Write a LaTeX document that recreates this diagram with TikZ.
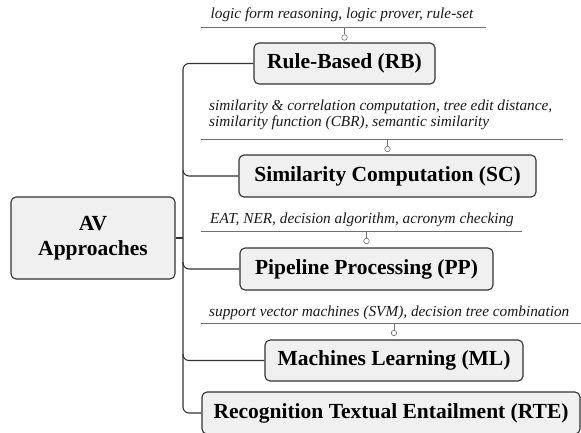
\documentclass[tikz,border=0pt]{standalone}
\usepackage{fontspec}
\setmainfont{Liberation Serif}
\usetikzlibrary{positioning}
\definecolor{boxfill}{HTML}{F0F0F0}
\definecolor{boxdraw}{HTML}{333333}
\definecolor{annline}{HTML}{707070}
\tikzset{
  x=1pt, y=-1pt,
  titlebox/.style={draw=boxdraw, fill=boxfill, line width=1.1pt, rounded corners=5pt,
    font=\fontsize{21.5}{24}\selectfont\bfseries, inner sep=0pt, anchor=center},
  anntext/.style={font=\fontsize{15.3}{16.5}\selectfont\itshape, inner sep=0pt, text=black!90},
  annline/.style={draw=annline, line width=0.6pt},
  knob/.style={circle, draw=annline, fill=white, line width=0.6pt, minimum size=5.5pt, inner sep=0pt},
  trunk/.style={draw=boxdraw, line width=1.1pt, rounded corners=6pt},
}
\begin{document}
\begin{tikzpicture}
\useasboundingbox (0,0) rectangle (581,432);
\begin{scope}
\clip (0,0) rectangle (581,432);
% main box
\node[titlebox, minimum width=164pt, minimum height=82pt, align=center, font=\fontsize{21.5}{25}\selectfont\bfseries] (av) at (93,238) {AV\\Approaches};
% category boxes
\node[titlebox, minimum width=181pt, minimum height=41pt] (rb) at (344.5,63.5) {Rule-Based (RB)};
\node[titlebox, minimum width=297pt, minimum height=42pt] (sc) at (387.5,176) {Similarity Computation (SC)};
\node[titlebox, minimum width=253pt, minimum height=42pt] (pp) at (366.5,269) {Pipeline Processing (PP)};
\node[titlebox, minimum width=258pt, minimum height=41pt] (ml) at (394,360.5) {Machines Learning (ML)};
\node[titlebox, minimum width=378pt, minimum height=42pt] (rte) at (391,413) {Recognition Textual Entailment (RTE)};
% trunk
\coordinate (tj) at (183,238);
\draw[trunk] (av.east) -- (tj);
\draw[trunk] (tj) |- (rb.west);
\draw[trunk] (tj) |- (rte.west);
\draw[trunk] (183,170) |- (sc.west);
\draw[trunk] (183,262) |- (pp.west);
\draw[trunk] (183,354) |- (ml.west);
% annotations
\node[anntext] (rbt) at (342,15) {logic form reasoning, logic prover, rule-set};
\coordinate (rbl1) at (201,27); \coordinate (rbl2) at (486,27);
\draw[annline] (rbl1) -- (rbl2);
\node[knob] (rbk) at (344.5,37.5) {};
\draw[annline] (rbk) -- (rbk |- rbl1);

\node[anntext, anchor=west, align=left] (sct) at (209,115) {similarity \& correlation computation, tree edit distance,\\similarity function (CBR), semantic similarity};
\coordinate (scl1) at (201,139); \coordinate (scl2) at (563,139);
\draw[annline] (scl1) -- (scl2);
\node[knob] (sck) at (387.5,149) {};
\draw[annline] (sck) -- (sck |- scl1);

\node[anntext, anchor=west] (ppt) at (210,220) {EAT, NER, decision algorithm, acronym checking};
\coordinate (ppl1) at (201,231); \coordinate (ppl2) at (522,231);
\draw[annline] (ppl1) -- (ppl2);
\node[knob] (ppk) at (366.5,241) {};
\draw[annline] (ppk) -- (ppk |- ppl1);

\node[anntext, anchor=west] (mlt) at (209,313) {support vector machines (SVM), decision tree combination};
\coordinate (mll1) at (201,323); \coordinate (mll2) at (581,323);
\draw[annline] (mll1) -- (mll2);
\node[knob] (mlk) at (394,333) {};
\draw[annline] (mlk) -- (mlk |- mll1);
\end{scope}
\end{tikzpicture}
\end{document}
